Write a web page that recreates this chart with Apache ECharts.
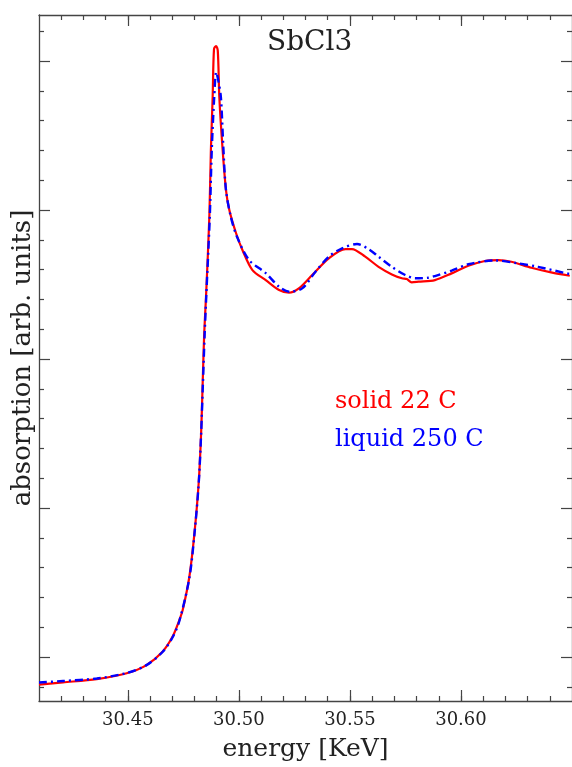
<!DOCTYPE html>
<html>
<head>
<meta charset="utf-8">
<script src="https://cdn.jsdelivr.net/npm/echarts@6/dist/echarts.min.js"></script>
<style>
html,body{margin:0;padding:0;background:#fff;}
#chart{width:572px;height:767px;}
</style>
</head>
<body>
<div id="chart"></div>
<script>
// ---- data ----
const titleText = 'SbCl3';
const seriesNames = ['solid 22 C', 'liquid 250 C'];
const xMajorTicks = [30.45, 30.50, 30.55, 30.60];
const xMinorTicks = [30.42, 30.43, 30.44, 30.45, 30.46, 30.47, 30.48, 30.49, 30.50, 30.51, 30.52, 30.53, 30.54, 30.55, 30.56, 30.57, 30.58, 30.59, 30.60, 30.61, 30.62, 30.63, 30.64];
const yMajorTicks = [0, 1, 2, 3, 4];
const yMinorTicks = [-0.2, 0.2, 0.4, 0.6, 0.8, 1.2, 1.4, 1.6, 1.8, 2.2, 2.4, 2.6, 2.8, 3.2, 3.4, 3.6, 3.8, 4.2];

const energySolid = [30.4100, 30.4208, 30.4360, 30.4495, 30.4584, 30.4656, 30.4701, 30.4732, 30.4747, 30.4777, 30.4800, 30.4819, 30.4830, 30.4837, 30.4844, 30.4852, 30.4867, 30.4874, 30.4882, 30.4888, 30.4897, 30.4905, 30.4912, 30.4926, 30.4942, 30.4957, 30.4987, 30.5016, 30.5061, 30.5121, 30.5181, 30.5226, 30.5270, 30.5330, 30.5405, 30.5480, 30.5509, 30.5569, 30.5629, 30.5689, 30.5734, 30.5756, 30.5778, 30.5809, 30.5883, 30.5958, 30.6033, 30.6108, 30.6167, 30.6227, 30.6317, 30.6406, 30.6490];
const absorbSolid = [-0.185, -0.170, -0.148, -0.109, -0.054, 0.036, 0.136, 0.248, 0.315, 0.539, 0.832, 1.168, 1.503, 1.839, 2.174, 2.416, 2.953, 3.403, 3.758, 4.080, 4.101, 4.070, 3.758, 3.423, 3.134, 3.000, 2.846, 2.732, 2.597, 2.530, 2.463, 2.445, 2.474, 2.564, 2.676, 2.738, 2.738, 2.687, 2.619, 2.568, 2.542, 2.537, 2.515, 2.519, 2.530, 2.575, 2.626, 2.658, 2.664, 2.653, 2.613, 2.582, 2.559];

const energyLiquid = [30.4100, 30.4208, 30.4360, 30.4495, 30.4584, 30.4656, 30.4701, 30.4732, 30.4777, 30.4800, 30.4819, 30.4830, 30.4838, 30.4846, 30.4853, 30.4869, 30.4878, 30.4889, 30.4898, 30.4907, 30.4919, 30.4930, 30.4942, 30.4964, 30.4992, 30.5046, 30.5121, 30.5181, 30.5226, 30.5285, 30.5345, 30.5405, 30.5465, 30.5532, 30.5584, 30.5629, 30.5689, 30.5749, 30.5794, 30.5853, 30.5883, 30.5958, 30.6033, 30.6152, 30.6257, 30.6347, 30.6490];
const absorbLiquid = [-0.171, -0.161, -0.144, -0.107, -0.054, 0.034, 0.131, 0.242, 0.530, 0.826, 1.161, 1.497, 1.832, 2.168, 2.416, 2.953, 3.403, 3.758, 3.926, 3.872, 3.758, 3.423, 3.134, 2.953, 2.819, 2.664, 2.577, 2.485, 2.452, 2.474, 2.586, 2.687, 2.743, 2.772, 2.738, 2.687, 2.619, 2.564, 2.542, 2.546, 2.557, 2.593, 2.636, 2.662, 2.642, 2.619, 2.570];

const X_MIN = 30.41, X_MAX = 30.65;
const Y_MIN = -0.295, Y_MAX = 4.309;

// ---- chart ----
const FONT = 'DejaVu Serif';
const AX = '#444';
const zip = (a, b) => a.map((v, i) => [v, b[i]]);

function xAx(pos, ticks, len, showLine, showLabel) {
  return {
    type: 'value', position: pos, min: X_MIN, max: X_MAX,
    splitLine: {show: false},
    axisLine: {show: showLine, onZero: false, lineStyle: {color: AX, width: 1.3}},
    axisTick: {show: true, inside: true, length: len, customValues: ticks, lineStyle: {color: AX, width: 1.2}},
    axisLabel: showLabel ? {show: true, customValues: xMajorTicks, margin: 10, color: '#222', fontFamily: FONT, fontSize: 18,
      formatter: v => Number(v).toFixed(2)} : {show: false},
    name: showLabel ? 'energy [KeV]' : '',
    nameLocation: 'middle', nameGap: 36,
    nameTextStyle: {fontFamily: FONT, fontSize: 25, color: '#222'}
  };
}
function yAx(pos, ticks, len, showLine, showName) {
  return {
    type: 'value', position: pos, min: Y_MIN, max: Y_MAX,
    splitLine: {show: false},
    axisLine: {show: showLine, onZero: false, lineStyle: {color: AX, width: 1.3}},
    axisTick: {show: true, inside: true, length: len, customValues: ticks, lineStyle: {color: AX, width: 1.2}},
    axisLabel: {show: false},
    name: showName ? 'absorption [arb. units]' : '',
    nameLocation: 'middle', nameGap: 3,
    nameTextStyle: {fontFamily: FONT, fontSize: 26, color: '#222'}
  };
}

const chart = echarts.init(document.getElementById('chart'), null, {renderer: 'canvas'});
chart.setOption({
  animation: false,
  backgroundColor: '#fff',
  title: {
    text: titleText, left: 262, top: 24,
    textStyle: {fontFamily: FONT, fontSize: 28, fontWeight: 'normal', color: '#222'}
  },
  legend: {
    orient: 'vertical', left: 325, top: 385, itemGap: 14,
    icon: 'none', itemWidth: 0, itemHeight: 0,
    data: [
      {name: seriesNames[0], textStyle: {color: '#ff0000'}},
      {name: seriesNames[1], textStyle: {color: '#0000ff'}}
    ],
    textStyle: {fontFamily: FONT, fontSize: 24}
  },
  grid: {left: 39, right: -2, top: 15, bottom: 66, containLabel: false},
  xAxis: [
    xAx('bottom', xMajorTicks, 11, true, true),
    xAx('bottom', xMinorTicks, 5, false, false),
    xAx('top', xMajorTicks, 11, true, false),
    xAx('top', xMinorTicks, 5, false, false)
  ],
  yAxis: [
    yAx('left', yMajorTicks, 11, true, true),
    yAx('left', yMinorTicks, 5, false, false),
    yAx('right', yMajorTicks, 11, true, false),
    yAx('right', yMinorTicks, 5, false, false)
  ],
  series: [
    {
      name: seriesNames[0], type: 'line', xAxisIndex: 0, yAxisIndex: 0,
      data: zip(energySolid, absorbSolid), showSymbol: false, symbol: 'none',
      smooth: 0.3, color: '#ff0000',
      lineStyle: {color: '#ff0000', width: 2.2}
    },
    {
      name: seriesNames[1], type: 'line', xAxisIndex: 0, yAxisIndex: 0,
      data: zip(energyLiquid, absorbLiquid), showSymbol: false, symbol: 'none',
      smooth: 0.3, color: '#0000ff',
      lineStyle: {color: '#0000ff', width: 2.4, type: [8, 4, 2, 4]}
    }
  ]
});
</script>
</body>
</html>
